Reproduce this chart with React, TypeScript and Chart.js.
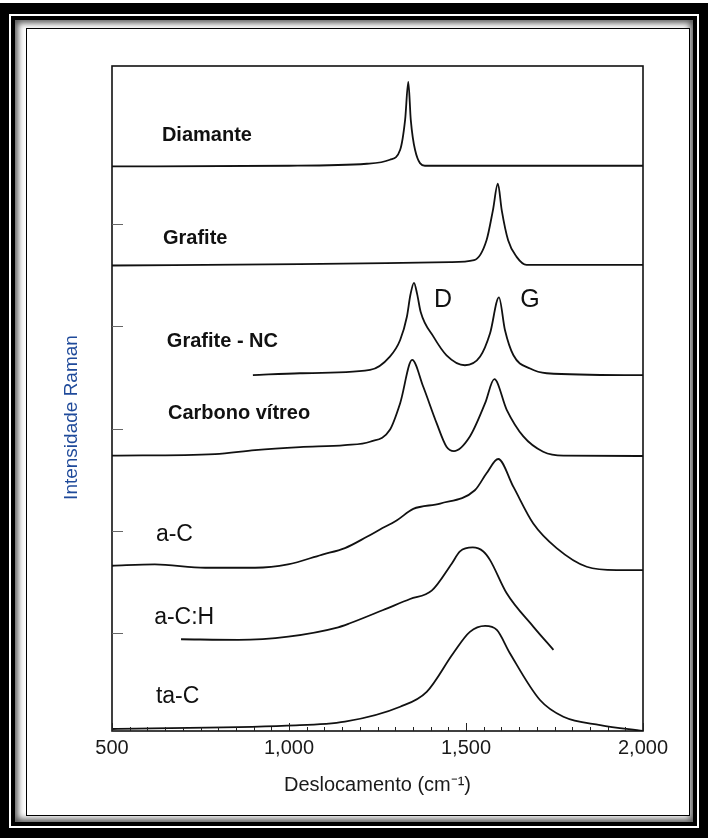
import React, { useEffect, useRef } from "react";
import { Chart, registerables } from "chart.js";

Chart.register(...registerables);

// Raman shift (cm-1) and stacked intensity (a.u., offset per spectrum)
const diamanteX = [500, 1000, 1220, 1285, 1314, 1328, 1337, 1344, 1356, 1384, 2000];
const diamanteY = [84.9, 85.0, 85.3, 85.9, 87.4, 91.9, 97.6, 91.9, 87.4, 85.0, 85.0];

const grafiteX = [500, 1030, 1455, 1523, 1558, 1576, 1590, 1601, 1619, 1643, 1671, 2000];
const grafiteY = [70.0, 70.2, 70.5, 70.8, 73.8, 78.3, 82.3, 78.3, 73.8, 71.3, 70.1, 70.1];

const grafiteNcX = [898, 1031, 1229, 1285, 1314, 1333, 1343, 1353, 1362, 1372, 1408, 1445, 1497, 1540, 1568, 1593, 1610, 1634, 1681, 1728, 2000];
const grafiteNcY = [53.5, 53.8, 54.3, 56.3, 58.8, 62.3, 65.6, 67.4, 65.7, 63.0, 59.3, 56.5, 55.0, 56.3, 59.8, 65.2, 60.3, 56.5, 54.5, 53.8, 53.5];

const carbonoX = [500, 791, 904, 1031, 1158, 1229, 1285, 1314, 1348, 1379, 1417, 1445, 1466, 1511, 1554, 1580, 1615, 1662, 1718, 1775, 2000];
const carbonoY = [41.4, 41.65, 42.25, 42.7, 43.0, 43.5, 45.3, 49.3, 55.8, 51.8, 46.3, 42.75, 42.1, 44.3, 49.3, 52.9, 48.3, 44.3, 42.0, 41.4, 41.35];

const aCX = [500, 621, 763, 904, 997, 1092, 1158, 1220, 1257, 1305, 1351, 1427, 1525, 1558, 1591, 1634, 1690, 1756, 1841, 1926, 2000];
const aCY = [24.85, 25.05, 24.55, 24.55, 25.05, 26.5, 27.5, 29.2, 30.3, 31.7, 33.4, 34.2, 36.2, 38.75, 40.9, 36.7, 31.2, 27.5, 24.7, 24.2, 24.2];

const aCHX = [695, 857, 998, 1139, 1172, 1266, 1342, 1403, 1460, 1483, 1519, 1549, 1568, 1615, 1690, 1747];
const aCHY = [13.8, 13.7, 14.2, 15.6, 16.2, 18.2, 19.85, 21.1, 25.2, 27.0, 27.6, 27.0, 25.7, 20.7, 15.7, 12.2];

const taCX = [500, 994, 1158, 1314, 1389, 1464, 1511, 1554, 1587, 1624, 1709, 1775, 1879, 2000];
const taCY = [0.3, 0.8, 1.4, 3.65, 5.9, 11.7, 14.9, 15.8, 15.2, 11.7, 4.66, 2.15, 0.9, 0.0];

const xTickLabels = [500, 1000, 1500, 2000];
const yTickValues = [14.7, 30.1, 45.4, 60.9, 76.2];

// spectrum names with anchor (cm-1, a.u.)
const labelTexts = ["Diamante", "Grafite", "Grafite - NC", "Carbono vítreo", "a-C", "a-C:H", "ta-C", "D", "G"];
const labelX = [641, 644, 655, 658, 624, 619, 624, 1435, 1681];
const labelY = [89.5, 74.0, 58.5, 47.7, 29.6, 17.0, 5.1, 64.8, 64.8];
const labelBold = [true, true, true, true, false, false, false, false, false];

const FONT = "'Liberation Sans', Arial, Helvetica, sans-serif";

function toPoints(xs: number[], ys: number[]) {
  return xs.map((x, i) => ({ x, y: ys[i] }));
}

const decorPlugin = {
  id: "decor",
  afterDraw(chart: any) {
    const { ctx, chartArea: a } = chart;
    const xs = chart.scales.x;
    const ys = chart.scales.y;
    ctx.save();
    // plot box
    ctx.strokeStyle = "#111";
    ctx.lineWidth = 1.6;
    ctx.strokeRect(a.left, a.top, a.right - a.left, a.bottom - a.top);
    // x ticks (inward)
    ctx.lineWidth = 1;
    ctx.strokeStyle = "#222";
    xs.ticks.forEach((t: any) => {
      const px = Math.round(xs.getPixelForValue(t.value)) + 0.5;
      const len = xTickLabels.includes(t.value) ? 8 : 4;
      ctx.beginPath();
      ctx.moveTo(px, a.bottom);
      ctx.lineTo(px, a.bottom - len);
      ctx.stroke();
    });
    // y ticks (inward)
    ctx.strokeStyle = "#666";
    yTickValues.forEach((v) => {
      const py = Math.round(ys.getPixelForValue(v)) + 0.5;
      ctx.beginPath();
      ctx.moveTo(a.left, py);
      ctx.lineTo(a.left + 11, py);
      ctx.stroke();
    });
    // spectrum labels
    ctx.fillStyle = "#111";
    ctx.textBaseline = "middle";
    labelTexts.forEach((txt, i) => {
      const isPeak = txt === "D" || txt === "G";
      ctx.font = labelBold[i]
        ? `bold 20px ${FONT}`
        : isPeak
        ? `25px ${FONT}`
        : `23px ${FONT}`;
      ctx.textAlign = isPeak ? "center" : "left";
      ctx.fillText(txt, xs.getPixelForValue(labelX[i]), ys.getPixelForValue(labelY[i]));
    });
    // y title
    ctx.translate(72, (a.top + a.bottom) / 2 + 19);
    ctx.rotate(-Math.PI / 2);
    ctx.fillStyle = "#1f4a9a";
    ctx.font = `19px ${FONT}`;
    ctx.textAlign = "center";
    ctx.textBaseline = "middle";
    ctx.fillText("Intensidade Raman", 0, 0);
    ctx.restore();
  },
};

export default function App() {
  const ref = useRef<HTMLCanvasElement | null>(null);

  useEffect(() => {
    if (!ref.current) return;
    const series = [
      [diamanteX, diamanteY],
      [grafiteX, grafiteY],
      [grafiteNcX, grafiteNcY],
      [carbonoX, carbonoY],
      [aCX, aCY],
      [aCHX, aCHY],
      [taCX, taCY],
    ];
    const names = ["Diamante", "Grafite", "Grafite - NC", "Carbono vítreo", "a-C", "a-C:H", "ta-C"];
    const chart = new Chart(ref.current, {
      type: "line",
      data: {
        datasets: series.map(([xs, ys], i) => ({
          label: names[i],
          data: toPoints(xs as number[], ys as number[]),
          borderColor: "#111",
          borderWidth: 1.8,
          pointRadius: 0,
          fill: false,
          cubicInterpolationMode: "monotone" as const,
        })),
      },
      options: {
        animation: false,
        responsive: false,
        maintainAspectRatio: false,
        layout: { padding: { left: 0, top: 66, right: 65, bottom: 38 } },
        plugins: {
          legend: { display: false },
          tooltip: { enabled: false },
        },
        scales: {
          x: {
            type: "linear",
            min: 500,
            max: 2000,
            grid: { display: false, drawTicks: false },
            border: { display: false },
            ticks: {
              stepSize: 50,
              autoSkip: false,
              maxRotation: 0,
              padding: 5,
              color: "#1a1a1a",
              font: { family: FONT, size: 20 },
              callback: (v: any) =>
                xTickLabels.includes(Number(v)) ? Number(v).toLocaleString("en-US") : "",
            },
            title: {
              display: true,
              text: "Deslocamento (cm⁻¹)",
              color: "#1a1a1a",
              font: { family: FONT, size: 20 },
              padding: { top: 0, bottom: 3 },
            },
            afterFit: (s: any) => {
              s.height = 69;
              s.paddingLeft = 0;
              s.paddingRight = 0;
            },
          },
          y: {
            type: "linear",
            min: 0,
            max: 100,
            grid: { display: false, drawTicks: false },
            border: { display: false },
            ticks: { display: false },
            afterFit: (s: any) => {
              s.width = 112;
              s.paddingTop = 0;
              s.paddingBottom = 0;
            },
          },
        },
      },
      plugins: [decorPlugin],
    });
    return () => chart.destroy();
  }, []);

  const abs = (l: number, t: number, w: number, h: number, extra: any = {}) => ({
    position: "absolute" as const,
    left: l,
    top: t,
    width: w,
    height: h,
    ...extra,
  });

  return (
    <div style={abs(0, 0, 708, 838, { background: "#fff", overflow: "hidden" })}>
      <div style={abs(0, 3, 708, 835, { background: "#000" })} />
      <div style={abs(9, 14, 690, 814, { background: "#fff" })} />
      <div style={abs(11, 16, 686, 810, { background: "#000" })} />
      <div style={abs(15, 20, 678, 802, { background: "#fff", boxShadow: "inset 0 0 6px 3px #555" })} />
      <div
        style={abs(26, 28, 664, 788, {
          background: "#fff",
          border: "1.5px solid #000",
          boxSizing: "border-box",
        })}
      />
      <canvas ref={ref} width={708} height={838} style={abs(0, 0, 708, 838, { display: "block" })} />
    </div>
  );
}
